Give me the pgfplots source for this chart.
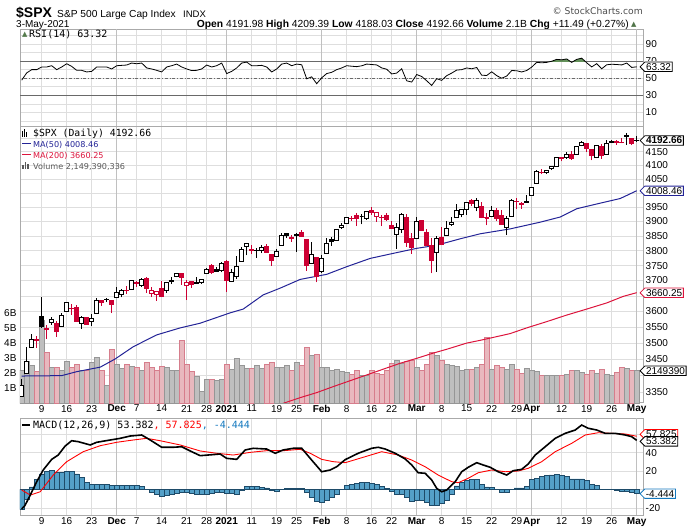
\documentclass[border=0pt]{standalone}
\usepackage{pgfplots}
\pgfplotsset{compat=1.18}
\usepackage{pgfplotstable}
\usepackage{fontspec}
\setmainfont{Liberation Sans}
\newfontfamily\mono{DejaVu Sans Mono}
\newfontfamily\dvs{DejaVu Sans}
\usetikzlibrary{shapes.symbols}

\definecolor{candred}{RGB}{204,0,51}
\definecolor{volgray}{RGB}{191,191,191}
\definecolor{volgrayd}{RGB}{150,150,150}
\definecolor{volpink}{RGB}{232,184,190}
\definecolor{volpinkd}{RGB}{214,125,140}
\definecolor{maone}{RGB}{35,35,150}
\definecolor{matwo}{RGB}{220,20,60}
\definecolor{histfill}{RGB}{84,160,200}
\definecolor{histedge}{RGB}{30,75,105}
\definecolor{gridlight}{RGB}{222,222,222}
\definecolor{gridmonth}{RGB}{192,192,192}
\definecolor{border}{RGB}{170,170,170}
\definecolor{refline}{RGB}{105,105,105}
\definecolor{rsigreen}{RGB}{100,145,90}
\definecolor{macdblue}{RGB}{20,120,190}

\pgfplotstableread{
i o h l c v
0 3336.25 3389.49 3336.25 3369.16 2.2
1 3406.46 3486.25 3405.17 3443.44 2.8
2 3485.74 3529.05 3485.74 3510.45 2.5
3 3508.34 3521.58 3484.34 3509.44 2.1
4 3583.04 3645.99 3547.48 3550.50 5.5
5 3543.26 3557.22 3511.91 3545.53 3.4
6 3563.22 3581.16 3557.00 3572.66 2.4
7 3562.67 3569.02 3518.58 3537.01 2.35
8 3552.57 3593.66 3552.57 3585.15 2.2
9 3600.16 3628.51 3600.16 3626.91 2.75
10 3610.31 3623.11 3588.68 3609.53 2.35
11 3612.09 3619.09 3567.33 3567.79 2.6
12 3559.41 3585.22 3543.84 3581.87 2.15
13 3579.31 3581.23 3556.85 3557.54 2.15
14 3566.82 3589.81 3552.77 3577.59 2.7
15 3594.52 3642.31 3594.52 3635.41 3.05
16 3635.50 3635.50 3617.76 3629.65 2.2
17 3638.55 3644.31 3629.33 3638.35 1.15
18 3634.18 3634.18 3594.39 3621.63 3.55
19 3645.87 3678.45 3645.87 3662.45 2.55
20 3653.78 3670.96 3644.84 3669.01 2.3
21 3668.28 3682.73 3657.17 3666.72 2.55
22 3670.94 3699.20 3670.94 3699.12 2.45
23 3694.73 3697.41 3678.88 3691.96 2.35
24 3683.05 3708.45 3678.83 3702.25 2.15
25 3705.98 3712.39 3660.54 3672.82 2.7
26 3659.13 3678.49 3645.18 3668.10 2.35
27 3656.08 3665.91 3633.40 3663.46 2.2
28 3675.27 3697.61 3645.84 3647.49 2.45
29 3666.41 3695.29 3659.62 3694.62 2.35
30 3696.25 3711.27 3688.57 3701.17 2.2
31 3713.65 3725.12 3710.87 3722.48 2.2
32 3722.39 3726.70 3685.84 3709.41 4.15
33 3684.28 3702.90 3636.48 3694.92 2.6
34 3698.08 3698.26 3676.16 3687.26 2.1
35 3693.42 3711.24 3689.28 3690.01 1.75
36 3694.03 3703.82 3689.32 3703.06 0.75
37 3723.03 3740.51 3723.03 3735.36 1.55
38 3750.01 3756.12 3723.31 3727.04 1.55
39 3736.19 3744.63 3730.21 3732.04 1.5
40 3733.27 3760.20 3726.88 3756.07 1.55
41 3764.61 3769.99 3662.71 3700.65 2.6
42 3698.02 3737.83 3695.07 3726.86 2.27
43 3712.20 3783.04 3705.34 3748.14 3.0
44 3764.71 3811.55 3764.71 3803.79 2.5
45 3815.05 3826.69 3783.60 3824.68 2.3
46 3803.14 3817.86 3789.02 3799.61 2.3
47 3801.62 3810.78 3776.51 3801.19 2.5
48 3802.23 3820.96 3791.50 3809.84 2.3
49 3814.98 3823.60 3792.86 3795.54 2.6
50 3788.73 3788.73 3749.62 3768.25 2.7
51 3781.88 3804.53 3780.37 3798.91 2.4
52 3816.22 3859.75 3816.22 3851.85 2.35
53 3857.46 3861.45 3845.05 3853.07 2.5
54 3844.24 3852.31 3830.41 3841.47 2.2
55 3851.68 3859.23 3797.16 3855.36 2.7
56 3862.96 3870.90 3847.78 3849.62 2.5
57 3836.83 3836.83 3732.48 3750.77 3.72
58 3755.75 3830.50 3755.75 3787.38 3.17
59 3778.05 3778.05 3694.12 3714.24 3.23
60 3731.17 3784.32 3725.62 3773.86 2.35
61 3791.84 3843.09 3791.84 3826.31 2.35
62 3840.27 3847.51 3816.68 3830.17 2.17
63 3836.66 3872.42 3836.66 3871.74 2.28
64 3878.30 3894.56 3874.93 3886.83 2.1
65 3892.59 3915.77 3892.59 3915.59 2.06
66 3910.49 3918.35 3902.64 3911.23 1.94
67 3920.78 3931.50 3884.94 3909.88 2.21
68 3916.40 3925.99 3890.39 3916.38 1.88
69 3911.65 3937.23 3905.78 3934.83 1.83
70 3939.61 3950.43 3923.85 3932.59 2.21
71 3918.50 3933.61 3900.43 3931.33 1.99
72 3915.86 3921.98 3885.03 3913.97 1.94
73 3921.16 3930.41 3903.07 3906.71 2.17
74 3885.55 3902.92 3874.71 3876.50 2.68
75 3857.07 3895.98 3805.59 3881.37 2.88
76 3873.71 3928.65 3859.60 3925.43 2.68
77 3915.80 3925.02 3814.04 3829.34 2.79
78 3839.66 3861.08 3789.54 3811.15 2.88
79 3842.51 3914.50 3842.51 3901.82 2.35
80 3903.64 3906.41 3868.57 3870.29 2.21
81 3863.99 3874.47 3818.86 3819.72 2.61
82 3818.53 3843.67 3723.34 3768.47 3.39
83 3793.58 3851.69 3730.19 3841.94 3.17
84 3844.39 3881.06 3819.25 3821.35 2.83
85 3851.93 3903.76 3851.93 3875.44 2.61
86 3891.99 3917.35 3885.73 3898.81 2.54
87 3915.54 3960.27 3915.54 3939.34 2.43
88 3924.52 3944.99 3915.21 3943.34 2.21
89 3942.96 3970.08 3923.54 3968.94 2.28
90 3973.59 3981.04 3953.44 3962.71 2.28
91 3949.57 3983.87 3935.74 3974.12 2.35
92 3953.50 3969.62 3910.86 3915.46 2.61
93 3913.14 3930.12 3886.75 3913.10 4.39
94 3916.48 3955.31 3914.16 3940.59 2.28
95 3937.60 3949.13 3901.57 3910.52 2.5
96 3919.93 3942.08 3889.07 3889.14 2.38
97 3879.34 3919.54 3853.50 3909.52 2.27
98 3917.12 3978.19 3917.12 3974.54 2.56
99 3969.31 3981.83 3943.25 3971.09 2.27
100 3963.34 3968.01 3944.35 3958.55 2.0
101 3967.25 3994.41 3966.98 3972.89 2.33
102 3992.78 4020.63 3992.78 4019.87 2.16
103 4034.44 4083.42 4034.44 4077.91 2.1
104 4075.57 4086.23 4068.14 4073.94 1.82
105 4074.29 4083.13 4068.31 4079.95 1.87
106 4089.95 4098.19 4082.54 4097.17 1.82
107 4096.11 4129.48 4095.51 4128.80 1.87
108 4124.71 4131.76 4114.82 4127.99 1.87
109 4130.10 4148.00 4124.43 4141.59 1.93
110 4141.58 4151.69 4120.87 4124.66 2.16
111 4139.76 4173.49 4139.76 4170.42 2.2
112 4174.14 4191.31 4170.75 4185.47 2.04
113 4179.80 4180.81 4150.47 4163.26 1.93
114 4159.18 4159.18 4118.38 4134.94 2.16
115 4128.42 4175.02 4126.01 4173.42 1.98
116 4170.46 4179.57 4123.69 4134.98 2.27
117 4138.78 4194.17 4138.78 4180.17 1.93
118 4185.03 4194.19 4182.36 4187.62 1.87
119 4188.25 4193.35 4176.22 4186.72 2.04
120 4185.14 4201.53 4181.78 4183.18 2.38
121 4206.14 4218.78 4176.81 4211.47 2.33
122 4198.10 4198.10 4174.85 4181.17 2.2
123 4191.98 4209.39 4188.03 4192.66 2.15
}\ohlc

\pgfplotstableread{
i r
0 47.7
1 56.2
2 60
3 60
4 63.1
5 63.1
6 64.6
7 60
8 63.1
9 66.9
10 63.8
11 59.2
12 59.2
13 57.3
14 58
15 63.1
16 63.1
17 63.1
18 60.8
19 64.6
20 65
21 65.4
22 67.7
23 66.9
24 67.7
25 62
26 60.8
27 59.2
28 57.3
29 63.1
30 64.6
31 66.5
32 63.1
33 60.8
34 58.9
35 59.2
36 60.8
37 65.4
38 63.1
39 64.6
40 67.7
41 55.4
42 58
43 62
44 67.7
45 68.8
46 64.6
47 64.6
48 65
49 63.1
50 57.3
51 60.8
52 66.5
53 67.7
54 64.6
55 66.5
56 65.7
57 49.3
58 51.6
59 43.6
60 50.5
61 55.4
62 56.9
63 60
64 62
65 64.6
66 64
67 63.5
68 64.5
69 66.5
70 66
71 65.5
72 62
73 60.5
74 55
75 56
76 61
77 47
78 45.5
79 54.3
80 52
81 47
82 41.6
83 49.5
84 47.5
85 53
86 56
87 59.5
88 60
89 62
90 61
91 62.5
92 53.5
93 53.2
94 57.5
95 53
96 50
97 52.5
98 59
99 58.7
100 57.3
101 59
102 63
103 68.5
104 68
105 68.5
106 69.8
107 72
108 71.5
109 72.5
110 68.5
111 72
112 73.4
113 68
114 63.2
115 67
116 61
117 65.7
118 66.3
119 66
120 65.5
121 67.7
122 62.6
123 63.32
}\rsi

\pgfplotstableread{
x y
0 3398
8 3399
11 3411
15.7 3425
18.7 3450
22.3 3488
27 3525
31.7 3547
35.7 3562
39 3580
41.7 3595
44.3 3607
48.3 3653
51.7 3675
55.7 3704
61 3721
65 3746
69.7 3774
74.3 3791
79 3808
83 3819
87.7 3841
91.7 3858
97.7 3875
103.7 3898
107.7 3916
111 3945
115.7 3965
119.7 3981
123 4008.46
}\maone

\pgfplotstableread{
x y
50 3300
52.3 3316
55.7 3333
59 3348
62.3 3366
65 3380
69 3401
75.7 3437
79 3452
82.3 3468
85 3480
89 3499
91.7 3508
95.7 3522
97.7 3529
101 3547
105 3567
109 3588
113 3607
117 3627
120.3 3648
123 3660.25
}\matwo

\pgfplotstableread{
i m
0 -21
0.67 -17
1.7 -6
3 8.6
4.3 21.3
6 32.8
7.3 37.5
8.7 47.3
10 53
11.3 52
13.7 48.4
15 51.3
17.7 53.8
19.7 55.6
21.7 58.1
24 59.2
25.7 53.8
28 45.9
30.3 45.9
32 46.5
34 41.1
35.7 36.8
39.7 38.6
41 33.9
43 32.8
44.7 43
46.3 44.8
49 44
50.7 39.4
52.3 43
54.3 44.8
56 44.8
57.7 33.9
60 19.4
61.7 21.3
63 24.8
64.7 32.5
67.3 39.4
70 44.8
71.3 45.9
72.7 44
74.7 39.4
76.7 33.2
78 26.7
79.3 18.3
80.7 17.7
82 10.4
83 1.4
84 -2.3
85 -0.4
86.7 8.6
88 19.4
89.3 24.2
91 29.2
92.3 26.7
93.7 24.2
95.3 19.4
97 15.8
98.3 20.5
100 22
101.3 27.8
102.7 37.5
104.7 46.5
106.7 55.6
108.7 61
110.7 64.6
112 70
113.3 66.5
115 64.6
116.7 61
118.7 61
120.7 59.2
122 57.4
123 53.382
}\macd

\pgfplotstableread{
i s
0 -0.4
1.7 -5.9
3.7 -2.3
6.3 15.8
9 30.3
12.3 41.1
15.7 47.6
19 51.3
22.3 53.8
25 55.6
27.7 53
31.7 48.4
35.7 41.9
39 39.4
42.3 37.5
45.7 40.4
49 42.2
52.3 42.2
55.7 43.7
57.7 39.4
60 32.8
62.3 30.3
64.7 29.2
68.7 35.7
72 41.1
75.3 37.5
78 32.1
80.7 24.8
83.3 15.8
86 8.6
87.3 7.5
89.3 12.3
91.3 18.3
94 21.3
96.7 19.4
99.3 20.2
101.3 23.1
104 30.3
106.7 41.1
110 50.2
112.7 59.2
115.3 61.7
118 61
120.7 60.3
123 57.825
}\sig

\pgfplotstableread{
i h
0 -21
1 -10
2 3
3 11
4 17
5 20
6 21
7 19
8 19
9 20
10 20
11 17
12 13
13 8
14 6
15 6
16 5.5
17 5.5
18 4.3
19 4.3
20 4.7
21 5
22 5
23 4.5
24 3.8
25 0.4
26 -2.5
27 -5
28 -7.5
29 -6
30 -5
31 -3.5
32 -2.5
33 -3
34 -4
35 -5
36 -5.5
37 -4.5
38 -3.5
39 -2.5
40 -3
41 -4
42 -4.4
43 -4.5
44 -0.5
45 3.5
46 3.8
47 3.6
48 2.8
49 2
50 -1
51 -2.2
52 0
53 1.3
54 1.5
55 1.4
56 1.5
57 -2.5
58 -8.5
59 -13
60 -14
61 -11
62 -8
63 -5.3
64 0
65 4.5
66 5.5
67 7
68 7.5
69 7.5
70 7
71 5.5
72 3.7
73 1.5
74 -2
75 -5
76 -4.5
77 -8
78 -13
79 -11
80 -11
81 -13.5
82 -17
83 -16.5
84 -15
85 -11
86 -5
87 4
88 8
89 9.8
90 10.8
91 10.8
92 6
93 3
94 2.5
95 0
96 -2.5
97 -2.5
98 0
99 1.8
100 1.8
101 3.6
102 10.8
103 12.6
104 14.5
105 15.2
106 15.9
107 16.3
108 15.2
109 14.5
110 11.6
111 11.6
112 11.6
113 10
114 5.4
115 4.3
116 0
117 0
118 0
119 -0.7
120 -1.8
121 -1.8
122 -2.9
123 -4.444
}\hist

\pgfplotsset{
  panel/.style={
    scale only axis, width=623pt, xmin=-0.34, xmax=124.26,
    axis line style={draw=border, line width=0.8pt},
    major tick length=0pt, minor tick length=0pt,
    xtick={4,9,14,23,28,33,37,46,51,55,65,70,74,84,89,94,99,108,113,118},
    xticklabels={9,16,23,7,14,21,28,11,19,25,8,16,22,8,15,22,29,12,19,26},
    extra x ticks={19,41,60,79,102,123},
    extra x tick labels={Dec,2021,Feb,Mar,Apr,May},
    extra x tick style={grid=major, major grid style={draw=gridmonth, line width=0.9pt},
      xticklabel style={font=\bfseries\fontsize{10}{10}\selectfont}},
    xmajorgrids, ymajorgrids,
    major grid style={draw=gridlight, line width=0.7pt},
    tick label style={font=\fontsize{10}{10}\selectfont, text=black},
    xticklabel style={inner sep=2pt},
    yticklabel pos=right,
    yticklabel style={anchor=west, inner sep=2.5pt},
  },
  nolabels/.style={xticklabels={}, extra x tick labels={}},
}
\tikzset{
  valbox/.style={signal, signal to=west, fill=white, line width=0.8pt,
    inner sep=1.2pt, anchor=west, xshift=-3.5pt, font=\fontsize{10}{10}\selectfont},
}

\begin{document}
\begin{tikzpicture}[x=1pt,y=1pt]
\useasboundingbox (0pt,0pt) rectangle (690pt,-530pt);

% ---------- header ----------
\node[anchor=base west, inner sep=0pt, font=\bfseries\fontsize{14}{14}\selectfont] at (16pt,-17.6pt) {\$SPX};
\node[anchor=base west, inner sep=0pt, font=\fontsize{10.2}{10.2}\selectfont] at (57pt,-17.6pt) {S\&P 500 Large Cap Index};
\node[anchor=base west, inner sep=0pt, font=\fontsize{9.5}{9.5}\selectfont] at (183pt,-17.6pt) {INDX};
\node[anchor=base west, inner sep=0pt, font=\fontsize{10}{10}\selectfont] at (16pt,-27.6pt) {3-May-2021};
\node[anchor=base east, inner sep=0pt, font=\fontsize{10.3}{10.3}\selectfont] at (629pt,-27.2pt)
  {\textbf{Open} 4191.98 \textbf{High} 4209.39 \textbf{Low} 4188.03 \textbf{Close} 4192.66 \textbf{Volume} 2.1B \textbf{Chg} +11.49 (+0.27\%)};
\node[anchor=base west, inner sep=0pt, text=rsigreen!80!black, font=\dvs\fontsize{7}{7}\selectfont] at (631pt,-26pt) {▲};
\node[anchor=base east, inner sep=0pt, text=black!70, font=\dvs\fontsize{9.2}{9.2}\selectfont] at (643pt,-14.5pt) {© StockCharts.com};

% ---------- RSI panel ----------
\begin{axis}[panel, nolabels, at={(20pt,-29.3pt)}, anchor=north west, height=97.4pt,
  ymin=-6.6, ymax=107.1, ytick={0,10,20,30,40,50,60,70,80,90,100},
  yticklabels={,10,,30,,50,,,,90,}]
\addplot[refline, line width=0.9pt, forget plot] coordinates {(-1,70) (126,70)};
\addplot[refline, line width=0.9pt, forget plot] coordinates {(-1,30) (126,30)};
\addplot[refline, dash dot, line width=0.8pt, forget plot] coordinates {(-1,50) (126,50)};
\begin{scope}
\clip (axis cs:-1,70) rectangle (axis cs:126,108);
\addplot[fill=rsigreen, draw=none, forget plot] table[x=i,y=r]{\rsi} \closedcycle;
\end{scope}
\addplot[black, line width=0.8pt] table[x=i,y=r]{\rsi};
\coordinate (rsibox) at (axis cs:124.26,63.32);
\coordinate (rsiseventy) at (axis cs:124.26,70);
\end{axis}

% ---------- main panel: grid and price labels ----------
\begin{axis}[panel, at={(20pt,-126.7pt)}, anchor=north west, height=276.3pt,
  ymode=log, ymin=3317.3, ymax=4244.5,
  ytick={3350,3400,3450,3500,3550,3600,3650,3700,3750,3800,3850,3900,3950,4000,4050,4100,4150,4200},
  yticklabels={3350,,3450,3500,3550,3600,,3700,3750,3800,3850,3900,3950,,4050,4100,4150,}]
\addplot[draw=none, forget plot] coordinates {(0,3400) (100,4100)};
\end{axis}

% ---------- volume ----------
\begin{axis}[scale only axis, width=623pt, height=276.3pt, at={(20pt,-126.7pt)}, anchor=north west,
  xmin=-0.34, xmax=124.26, ymin=0, ymax=18.42, axis line style={draw=none},
  xtick=\empty, ytick={1,2,3,4,5,6}, yticklabels={1B,2B,3B,4B,5B,6B},
  yticklabel pos=left, major tick length=0pt,
  tick label style={font=\fontsize{10}{10}\selectfont}]
\def\prevc{3310.24}
\pgfplotsforeachungrouped \k in {0,...,123}{%
  \pgfplotstablegetelem{\k}{c}\of\ohlc \let\cC\pgfplotsretval
  \pgfplotstablegetelem{\k}{v}\of\ohlc \let\cV\pgfplotsretval
  \ifdim\cC pt<\prevc pt \def\vf{volpink}\def\vd{volpinkd}\else\def\vf{volgray}\def\vd{volgrayd}\fi
  \pgfmathsetmacro\xa{\k-0.47}\pgfmathsetmacro\xb{\k+0.47}%
  \edef\temp{\noexpand\addplot[forget plot,draw=\vd,fill=\vf,line width=0.6pt] coordinates {(\xa,0) (\xa,\cV) (\xb,\cV) (\xb,0)} -- cycle;}%
  \temp
  \let\prevc\cC
}
\coordinate (volbox) at (axis cs:124.26,2.149);
\end{axis}

% ---------- candles and moving averages ----------
\begin{axis}[scale only axis, width=623pt, height=276.3pt, at={(20pt,-126.7pt)}, anchor=north west,
  xmin=-0.34, xmax=124.26, ymode=log, ymin=3317.3, ymax=4244.5, hide axis]
\addplot[matwo, line width=1pt, forget plot] table[x=x,y=y]{\matwo};
\addplot[maone, line width=1pt, forget plot] table[x=x,y=y]{\maone};
\def\prevc{3310.24}
\pgfplotsforeachungrouped \k in {0,...,123}{%
  \pgfplotstablegetelem{\k}{o}\of\ohlc \let\cO\pgfplotsretval
  \pgfplotstablegetelem{\k}{h}\of\ohlc \let\cH\pgfplotsretval
  \pgfplotstablegetelem{\k}{l}\of\ohlc \let\cL\pgfplotsretval
  \pgfplotstablegetelem{\k}{c}\of\ohlc \let\cC\pgfplotsretval
  \ifdim\cC pt<\prevc pt \def\col{candred}\else\def\col{black}\fi
  \ifdim\cC pt<\cO pt \edef\fil{\col}\else\def\fil{white}\fi
  \pgfmathsetmacro\xa{\k-0.36}\pgfmathsetmacro\xb{\k+0.36}%
  \edef\temp{\noexpand\addplot[forget plot,draw=\col,line width=0.9pt] coordinates {(\k,\cL) (\k,\cH)};%
    \noexpand\addplot[forget plot,draw=\col,fill=\fil,line width=0.9pt] coordinates {(\xa,\cO) (\xb,\cO) (\xb,\cC) (\xa,\cC)} -- cycle;}%
  \temp
  \let\prevc\cC
}
\coordinate (pxbox) at (axis cs:124.26,4192.66);
\coordinate (mabox) at (axis cs:124.26,4008.46);
\coordinate (mbbox) at (axis cs:124.26,3660.25);
\end{axis}

% ---------- MACD panel ----------
\begin{axis}[panel, at={(20pt,-418.3pt)}, anchor=north west, height=96.7pt,
  ymin=-27.5, ymax=77.3, ytick={-20,0,20,40,60}, yticklabels={-20,,20,40,}]
\addplot[ybar, bar width=1, fill=histfill, draw=histedge, line width=0.5pt, forget plot] table[x=i,y=h]{\hist};
\addplot[red, line width=0.9pt, forget plot] table[x=i,y=s]{\sig};
\addplot[black, line width=1.6pt, forget plot] table[x=i,y=m]{\macd};
\coordinate (sigbox) at (axis cs:124.26,57.825);
\coordinate (macdbox) at (axis cs:124.26,53.382);
\coordinate (histbox) at (axis cs:124.26,-4.444);
\end{axis}

% ---------- value boxes ----------
% RSI "70" label: only its upper part shows above the value box, as in the reference
\begin{scope}
\clip (640pt,-56pt) rectangle (690pt,-60.8pt);
\node[anchor=west, inner sep=2.5pt, font=\fontsize{10}{10}\selectfont] at (rsiseventy) {70};
\end{scope}
\node[valbox, draw=black] at (rsibox) {63.32};
\node[valbox, draw=black, font=\bfseries\fontsize{10}{10}\selectfont] at (pxbox) {4192.66};
\node[valbox, draw=maone] at (mabox) {4008.46};
\node[valbox, draw=matwo] at (mbbox) {3660.25};
\node[valbox, draw=black] at (volbox) {2149390};
\node[valbox, draw=red, yshift=2pt] at (sigbox) {57.825};
\node[valbox, draw=black, yshift=-1pt] at (macdbox) {53.382};
\node[valbox, draw=macdblue] at (histbox) {-4.444};

% ---------- panel legends ----------
\node[anchor=base west, inner sep=0pt, text=rsigreen!85!black, font=\dvs\fontsize{7}{7}\selectfont] at (22pt,-36.5pt) {▲};
\node[anchor=base west, inner sep=0pt, font=\mono\fontsize{10}{10}\selectfont] at (29pt,-37.2pt) {RSI(14) 63.32};

\node[anchor=base west, inner sep=0pt] at (22pt,-136.5pt) {\rule{1.2pt}{6pt}\hspace{0.8pt}\rule{1.2pt}{8pt}\hspace{0.8pt}\rule{1.2pt}{5pt}};
\node[anchor=base west, inner sep=0pt, font=\mono\fontsize{9.8}{9.8}\selectfont] at (33pt,-136.8pt) {\$SPX (Daily) 4192.66};
\node[anchor=base west, inner sep=0pt, text=maone] at (22pt,-144.4pt) {\rule{9pt}{1.6pt}};
\node[anchor=base west, inner sep=0pt, text=maone, font=\dvs\fontsize{8.1}{8.1}\selectfont] at (33pt,-147.5pt) {MA(50) 4008.46};
\node[anchor=base west, inner sep=0pt, text=matwo] at (22pt,-155.2pt) {\rule{9pt}{1.6pt}};
\node[anchor=base west, inner sep=0pt, text=matwo, font=\dvs\fontsize{8.1}{8.1}\selectfont] at (33pt,-158.3pt) {MA(200) 3660.25};
\node[anchor=base west, inner sep=0pt, text=black!65] at (22pt,-168.5pt) {\rule{1.8pt}{4pt}\hspace{0.6pt}\rule{1.8pt}{7pt}\hspace{0.6pt}\rule{1.8pt}{5pt}};
\node[anchor=base west, inner sep=0pt, text=black!65, font=\dvs\fontsize{8.1}{8.1}\selectfont] at (33pt,-169pt) {Volume 2,149,390,336};

\node[anchor=base west, inner sep=0pt] at (22pt,-426pt) {\rule{8pt}{1.6pt}};
\node[anchor=base west, inner sep=0pt, font=\mono\fontsize{10}{10}\selectfont] at (33pt,-428.3pt)
  {MACD(12,26,9) 53.382\textcolor{red}{, 57.825}\textcolor{macdblue}{, -4.444}};
\end{tikzpicture}
\end{document}
